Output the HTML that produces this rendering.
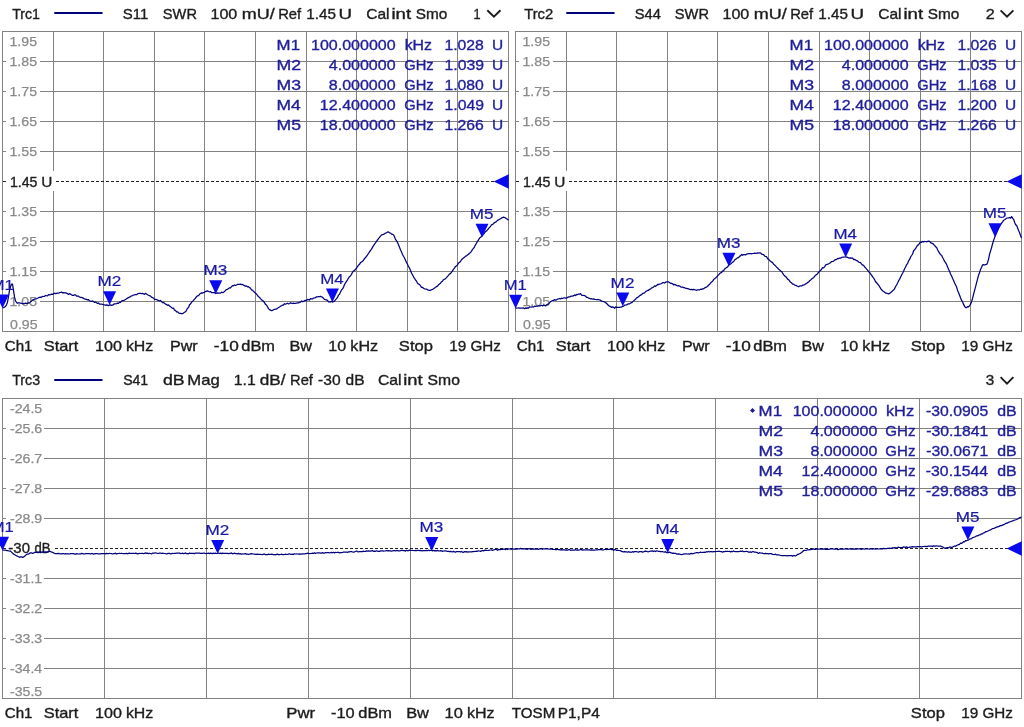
<!DOCTYPE html>
<html lang="en"><head><meta charset="utf-8"><title>VNA traces</title>
<style>html,body{margin:0;padding:0;background:#fff;overflow:hidden}svg text{white-space:pre}</style></head>
<body>
<svg width="1024" height="727" viewBox="0 0 1024 727" font-family="'Liberation Sans', Arial, sans-serif" style="display:block">
<rect x="0" y="0" width="1024" height="727" fill="#fff"/>
<g shape-rendering="crispEdges">
<line x1="2.5" y1="31.0" x2="2.5" y2="332.0" stroke="#828282" stroke-width="1"/>
<line x1="53.5" y1="31.0" x2="53.5" y2="332.0" stroke="#828282" stroke-width="1"/>
<line x1="103.5" y1="31.0" x2="103.5" y2="332.0" stroke="#828282" stroke-width="1"/>
<line x1="154.5" y1="31.0" x2="154.5" y2="332.0" stroke="#828282" stroke-width="1"/>
<line x1="204.5" y1="31.0" x2="204.5" y2="332.0" stroke="#828282" stroke-width="1"/>
<line x1="255.5" y1="31.0" x2="255.5" y2="332.0" stroke="#828282" stroke-width="1"/>
<line x1="306.5" y1="31.0" x2="306.5" y2="332.0" stroke="#828282" stroke-width="1"/>
<line x1="356.5" y1="31.0" x2="356.5" y2="332.0" stroke="#828282" stroke-width="1"/>
<line x1="407.5" y1="31.0" x2="407.5" y2="332.0" stroke="#828282" stroke-width="1"/>
<line x1="457.5" y1="31.0" x2="457.5" y2="332.0" stroke="#828282" stroke-width="1"/>
<line x1="508.5" y1="31.0" x2="508.5" y2="332.0" stroke="#828282" stroke-width="1"/>
<line x1="2.5" y1="31.5" x2="508.5" y2="31.5" stroke="#828282" stroke-width="1"/>
<line x1="2.5" y1="61.5" x2="6.0" y2="61.5" stroke="#828282" stroke-width="1"/>
<line x1="40.0" y1="61.5" x2="508.5" y2="61.5" stroke="#828282" stroke-width="1"/>
<line x1="2.5" y1="91.5" x2="6.0" y2="91.5" stroke="#828282" stroke-width="1"/>
<line x1="40.0" y1="91.5" x2="508.5" y2="91.5" stroke="#828282" stroke-width="1"/>
<line x1="2.5" y1="121.5" x2="6.0" y2="121.5" stroke="#828282" stroke-width="1"/>
<line x1="40.0" y1="121.5" x2="508.5" y2="121.5" stroke="#828282" stroke-width="1"/>
<line x1="2.5" y1="151.5" x2="6.0" y2="151.5" stroke="#828282" stroke-width="1"/>
<line x1="40.0" y1="151.5" x2="508.5" y2="151.5" stroke="#828282" stroke-width="1"/>
<line x1="2.5" y1="211.5" x2="6.0" y2="211.5" stroke="#828282" stroke-width="1"/>
<line x1="40.0" y1="211.5" x2="508.5" y2="211.5" stroke="#828282" stroke-width="1"/>
<line x1="2.5" y1="241.5" x2="6.0" y2="241.5" stroke="#828282" stroke-width="1"/>
<line x1="40.0" y1="241.5" x2="508.5" y2="241.5" stroke="#828282" stroke-width="1"/>
<line x1="2.5" y1="271.5" x2="6.0" y2="271.5" stroke="#828282" stroke-width="1"/>
<line x1="40.0" y1="271.5" x2="508.5" y2="271.5" stroke="#828282" stroke-width="1"/>
<line x1="2.5" y1="301.5" x2="6.0" y2="301.5" stroke="#828282" stroke-width="1"/>
<line x1="40.0" y1="301.5" x2="508.5" y2="301.5" stroke="#828282" stroke-width="1"/>
<line x1="2.5" y1="331.5" x2="508.5" y2="331.5" stroke="#828282" stroke-width="1"/>
</g>
<text x="9.53" y="45.70" font-size="13" fill="#8a8a8a" textLength="27.50" lengthAdjust="spacingAndGlyphs" stroke="#8a8a8a" stroke-width="0.25">1.95</text>
<text x="9.53" y="66.40" font-size="13" fill="#8a8a8a" textLength="27.50" lengthAdjust="spacingAndGlyphs" stroke="#8a8a8a" stroke-width="0.25">1.85</text>
<text x="9.53" y="96.40" font-size="13" fill="#8a8a8a" textLength="27.50" lengthAdjust="spacingAndGlyphs" stroke="#8a8a8a" stroke-width="0.25">1.75</text>
<text x="9.53" y="126.40" font-size="13" fill="#8a8a8a" textLength="27.50" lengthAdjust="spacingAndGlyphs" stroke="#8a8a8a" stroke-width="0.25">1.65</text>
<text x="9.53" y="156.40" font-size="13" fill="#8a8a8a" textLength="27.50" lengthAdjust="spacingAndGlyphs" stroke="#8a8a8a" stroke-width="0.25">1.55</text>
<text x="9.53" y="216.40" font-size="13" fill="#8a8a8a" textLength="27.50" lengthAdjust="spacingAndGlyphs" stroke="#8a8a8a" stroke-width="0.25">1.35</text>
<text x="9.53" y="246.40" font-size="13" fill="#8a8a8a" textLength="27.50" lengthAdjust="spacingAndGlyphs" stroke="#8a8a8a" stroke-width="0.25">1.25</text>
<text x="9.53" y="276.40" font-size="13" fill="#8a8a8a" textLength="27.50" lengthAdjust="spacingAndGlyphs" stroke="#8a8a8a" stroke-width="0.25">1.15</text>
<text x="9.53" y="306.40" font-size="13" fill="#8a8a8a" textLength="27.50" lengthAdjust="spacingAndGlyphs" stroke="#8a8a8a" stroke-width="0.25">1.05</text>
<text x="10.06" y="328.70" font-size="13" fill="#8a8a8a" textLength="27.50" lengthAdjust="spacingAndGlyphs" stroke="#8a8a8a" stroke-width="0.25">0.95</text>
<rect x="7.0" y="171.0" width="48.5" height="20" fill="#fff"/>
<g shape-rendering="crispEdges">
<line x1="2.5" y1="181.5" x2="6.0" y2="181.5" stroke="#222" stroke-width="1"/>
<line x1="56.0" y1="181.5" x2="494.5" y2="181.5" stroke="#222" stroke-width="1" stroke-dasharray="3 2"/>
</g>
<text x="9.93" y="186.60" font-size="14.5" fill="#1c1c1c" textLength="27.56" lengthAdjust="spacingAndGlyphs" stroke="#1c1c1c" stroke-width="0.35">1.45</text>
<text x="41.33" y="186.60" font-size="14.5" fill="#1c1c1c" textLength="11.09" lengthAdjust="spacingAndGlyphs" stroke="#1c1c1c" stroke-width="0.35">U</text>
<polygon points="493.70,181.50 508.80,174.20 508.80,188.80" fill="#0a0aee"/>
<g shape-rendering="crispEdges">
<line x1="515.5" y1="31.0" x2="515.5" y2="332.0" stroke="#828282" stroke-width="1"/>
<line x1="566.5" y1="31.0" x2="566.5" y2="332.0" stroke="#828282" stroke-width="1"/>
<line x1="616.5" y1="31.0" x2="616.5" y2="332.0" stroke="#828282" stroke-width="1"/>
<line x1="667.5" y1="31.0" x2="667.5" y2="332.0" stroke="#828282" stroke-width="1"/>
<line x1="717.5" y1="31.0" x2="717.5" y2="332.0" stroke="#828282" stroke-width="1"/>
<line x1="768.5" y1="31.0" x2="768.5" y2="332.0" stroke="#828282" stroke-width="1"/>
<line x1="819.5" y1="31.0" x2="819.5" y2="332.0" stroke="#828282" stroke-width="1"/>
<line x1="869.5" y1="31.0" x2="869.5" y2="332.0" stroke="#828282" stroke-width="1"/>
<line x1="920.5" y1="31.0" x2="920.5" y2="332.0" stroke="#828282" stroke-width="1"/>
<line x1="970.5" y1="31.0" x2="970.5" y2="332.0" stroke="#828282" stroke-width="1"/>
<line x1="1021.5" y1="31.0" x2="1021.5" y2="332.0" stroke="#828282" stroke-width="1"/>
<line x1="515.5" y1="31.5" x2="1021.5" y2="31.5" stroke="#828282" stroke-width="1"/>
<line x1="515.5" y1="61.5" x2="519.0" y2="61.5" stroke="#828282" stroke-width="1"/>
<line x1="553.0" y1="61.5" x2="1021.5" y2="61.5" stroke="#828282" stroke-width="1"/>
<line x1="515.5" y1="91.5" x2="519.0" y2="91.5" stroke="#828282" stroke-width="1"/>
<line x1="553.0" y1="91.5" x2="1021.5" y2="91.5" stroke="#828282" stroke-width="1"/>
<line x1="515.5" y1="121.5" x2="519.0" y2="121.5" stroke="#828282" stroke-width="1"/>
<line x1="553.0" y1="121.5" x2="1021.5" y2="121.5" stroke="#828282" stroke-width="1"/>
<line x1="515.5" y1="151.5" x2="519.0" y2="151.5" stroke="#828282" stroke-width="1"/>
<line x1="553.0" y1="151.5" x2="1021.5" y2="151.5" stroke="#828282" stroke-width="1"/>
<line x1="515.5" y1="211.5" x2="519.0" y2="211.5" stroke="#828282" stroke-width="1"/>
<line x1="553.0" y1="211.5" x2="1021.5" y2="211.5" stroke="#828282" stroke-width="1"/>
<line x1="515.5" y1="241.5" x2="519.0" y2="241.5" stroke="#828282" stroke-width="1"/>
<line x1="553.0" y1="241.5" x2="1021.5" y2="241.5" stroke="#828282" stroke-width="1"/>
<line x1="515.5" y1="271.5" x2="519.0" y2="271.5" stroke="#828282" stroke-width="1"/>
<line x1="553.0" y1="271.5" x2="1021.5" y2="271.5" stroke="#828282" stroke-width="1"/>
<line x1="515.5" y1="301.5" x2="519.0" y2="301.5" stroke="#828282" stroke-width="1"/>
<line x1="553.0" y1="301.5" x2="1021.5" y2="301.5" stroke="#828282" stroke-width="1"/>
<line x1="515.5" y1="331.5" x2="1021.5" y2="331.5" stroke="#828282" stroke-width="1"/>
</g>
<text x="522.53" y="45.70" font-size="13" fill="#8a8a8a" textLength="27.50" lengthAdjust="spacingAndGlyphs" stroke="#8a8a8a" stroke-width="0.25">1.95</text>
<text x="522.53" y="66.40" font-size="13" fill="#8a8a8a" textLength="27.50" lengthAdjust="spacingAndGlyphs" stroke="#8a8a8a" stroke-width="0.25">1.85</text>
<text x="522.53" y="96.40" font-size="13" fill="#8a8a8a" textLength="27.50" lengthAdjust="spacingAndGlyphs" stroke="#8a8a8a" stroke-width="0.25">1.75</text>
<text x="522.53" y="126.40" font-size="13" fill="#8a8a8a" textLength="27.50" lengthAdjust="spacingAndGlyphs" stroke="#8a8a8a" stroke-width="0.25">1.65</text>
<text x="522.53" y="156.40" font-size="13" fill="#8a8a8a" textLength="27.50" lengthAdjust="spacingAndGlyphs" stroke="#8a8a8a" stroke-width="0.25">1.55</text>
<text x="522.53" y="216.40" font-size="13" fill="#8a8a8a" textLength="27.50" lengthAdjust="spacingAndGlyphs" stroke="#8a8a8a" stroke-width="0.25">1.35</text>
<text x="522.53" y="246.40" font-size="13" fill="#8a8a8a" textLength="27.50" lengthAdjust="spacingAndGlyphs" stroke="#8a8a8a" stroke-width="0.25">1.25</text>
<text x="522.53" y="276.40" font-size="13" fill="#8a8a8a" textLength="27.50" lengthAdjust="spacingAndGlyphs" stroke="#8a8a8a" stroke-width="0.25">1.15</text>
<text x="522.53" y="306.40" font-size="13" fill="#8a8a8a" textLength="27.50" lengthAdjust="spacingAndGlyphs" stroke="#8a8a8a" stroke-width="0.25">1.05</text>
<text x="523.06" y="328.70" font-size="13" fill="#8a8a8a" textLength="27.50" lengthAdjust="spacingAndGlyphs" stroke="#8a8a8a" stroke-width="0.25">0.95</text>
<rect x="520.0" y="171.0" width="48.5" height="20" fill="#fff"/>
<g shape-rendering="crispEdges">
<line x1="515.5" y1="181.5" x2="519.0" y2="181.5" stroke="#222" stroke-width="1"/>
<line x1="569.0" y1="181.5" x2="1007.5" y2="181.5" stroke="#222" stroke-width="1" stroke-dasharray="3 2"/>
</g>
<text x="522.93" y="186.60" font-size="14.5" fill="#1c1c1c" textLength="27.56" lengthAdjust="spacingAndGlyphs" stroke="#1c1c1c" stroke-width="0.35">1.45</text>
<text x="554.33" y="186.60" font-size="14.5" fill="#1c1c1c" textLength="11.09" lengthAdjust="spacingAndGlyphs" stroke="#1c1c1c" stroke-width="0.35">U</text>
<polygon points="1006.70,181.50 1021.80,174.20 1021.80,188.80" fill="#0a0aee"/>
<g shape-rendering="crispEdges">
<line x1="2.5" y1="398.0" x2="2.5" y2="699.0" stroke="#828282" stroke-width="1"/>
<line x1="104.5" y1="398.0" x2="104.5" y2="699.0" stroke="#828282" stroke-width="1"/>
<line x1="206.5" y1="398.0" x2="206.5" y2="699.0" stroke="#828282" stroke-width="1"/>
<line x1="308.5" y1="398.0" x2="308.5" y2="699.0" stroke="#828282" stroke-width="1"/>
<line x1="410.5" y1="398.0" x2="410.5" y2="699.0" stroke="#828282" stroke-width="1"/>
<line x1="512.5" y1="398.0" x2="512.5" y2="699.0" stroke="#828282" stroke-width="1"/>
<line x1="613.5" y1="398.0" x2="613.5" y2="699.0" stroke="#828282" stroke-width="1"/>
<line x1="715.5" y1="398.0" x2="715.5" y2="699.0" stroke="#828282" stroke-width="1"/>
<line x1="817.5" y1="398.0" x2="817.5" y2="699.0" stroke="#828282" stroke-width="1"/>
<line x1="919.5" y1="398.0" x2="919.5" y2="699.0" stroke="#828282" stroke-width="1"/>
<line x1="1021.5" y1="398.0" x2="1021.5" y2="699.0" stroke="#828282" stroke-width="1"/>
<line x1="2.5" y1="398.5" x2="1021.5" y2="398.5" stroke="#828282" stroke-width="1"/>
<line x1="2.5" y1="428.5" x2="6.0" y2="428.5" stroke="#828282" stroke-width="1"/>
<line x1="44.0" y1="428.5" x2="1021.5" y2="428.5" stroke="#828282" stroke-width="1"/>
<line x1="2.5" y1="458.5" x2="6.0" y2="458.5" stroke="#828282" stroke-width="1"/>
<line x1="44.0" y1="458.5" x2="1021.5" y2="458.5" stroke="#828282" stroke-width="1"/>
<line x1="2.5" y1="488.5" x2="6.0" y2="488.5" stroke="#828282" stroke-width="1"/>
<line x1="44.0" y1="488.5" x2="1021.5" y2="488.5" stroke="#828282" stroke-width="1"/>
<line x1="2.5" y1="518.5" x2="6.0" y2="518.5" stroke="#828282" stroke-width="1"/>
<line x1="44.0" y1="518.5" x2="1021.5" y2="518.5" stroke="#828282" stroke-width="1"/>
<line x1="2.5" y1="578.5" x2="6.0" y2="578.5" stroke="#828282" stroke-width="1"/>
<line x1="44.0" y1="578.5" x2="1021.5" y2="578.5" stroke="#828282" stroke-width="1"/>
<line x1="2.5" y1="608.5" x2="6.0" y2="608.5" stroke="#828282" stroke-width="1"/>
<line x1="44.0" y1="608.5" x2="1021.5" y2="608.5" stroke="#828282" stroke-width="1"/>
<line x1="2.5" y1="638.5" x2="6.0" y2="638.5" stroke="#828282" stroke-width="1"/>
<line x1="44.0" y1="638.5" x2="1021.5" y2="638.5" stroke="#828282" stroke-width="1"/>
<line x1="2.5" y1="668.5" x2="6.0" y2="668.5" stroke="#828282" stroke-width="1"/>
<line x1="44.0" y1="668.5" x2="1021.5" y2="668.5" stroke="#828282" stroke-width="1"/>
<line x1="2.5" y1="698.5" x2="1021.5" y2="698.5" stroke="#828282" stroke-width="1"/>
</g>
<text x="9.99" y="412.70" font-size="13" fill="#8a8a8a" textLength="32.21" lengthAdjust="spacingAndGlyphs" stroke="#8a8a8a" stroke-width="0.25">-24.5</text>
<text x="9.99" y="433.40" font-size="13" fill="#8a8a8a" textLength="32.21" lengthAdjust="spacingAndGlyphs" stroke="#8a8a8a" stroke-width="0.25">-25.6</text>
<text x="9.99" y="463.40" font-size="13" fill="#8a8a8a" textLength="32.21" lengthAdjust="spacingAndGlyphs" stroke="#8a8a8a" stroke-width="0.25">-26.7</text>
<text x="9.99" y="493.40" font-size="13" fill="#8a8a8a" textLength="32.21" lengthAdjust="spacingAndGlyphs" stroke="#8a8a8a" stroke-width="0.25">-27.8</text>
<text x="9.99" y="523.40" font-size="13" fill="#8a8a8a" textLength="32.21" lengthAdjust="spacingAndGlyphs" stroke="#8a8a8a" stroke-width="0.25">-28.9</text>
<text x="9.99" y="583.40" font-size="13" fill="#8a8a8a" textLength="32.21" lengthAdjust="spacingAndGlyphs" stroke="#8a8a8a" stroke-width="0.25">-31.1</text>
<text x="9.99" y="613.40" font-size="13" fill="#8a8a8a" textLength="32.21" lengthAdjust="spacingAndGlyphs" stroke="#8a8a8a" stroke-width="0.25">-32.2</text>
<text x="9.99" y="643.40" font-size="13" fill="#8a8a8a" textLength="32.21" lengthAdjust="spacingAndGlyphs" stroke="#8a8a8a" stroke-width="0.25">-33.3</text>
<text x="9.99" y="673.40" font-size="13" fill="#8a8a8a" textLength="32.21" lengthAdjust="spacingAndGlyphs" stroke="#8a8a8a" stroke-width="0.25">-34.4</text>
<text x="9.99" y="695.70" font-size="13" fill="#8a8a8a" textLength="32.21" lengthAdjust="spacingAndGlyphs" stroke="#8a8a8a" stroke-width="0.25">-35.5</text>
<rect x="7.0" y="538.0" width="47" height="20" fill="#fff"/>
<g shape-rendering="crispEdges">
<line x1="2.5" y1="548.5" x2="6.0" y2="548.5" stroke="#222" stroke-width="1"/>
<line x1="55.0" y1="548.5" x2="1007.5" y2="548.5" stroke="#222" stroke-width="1" stroke-dasharray="3 2"/>
</g>
<text x="8.34" y="553.10" font-size="14.5" fill="#1c1c1c" textLength="21.64" lengthAdjust="spacingAndGlyphs" stroke="#1c1c1c" stroke-width="0.35">-30</text>
<text x="34.46" y="553.10" font-size="14.5" fill="#1c1c1c" textLength="15.97" lengthAdjust="spacingAndGlyphs" stroke="#1c1c1c" stroke-width="0.35">dB</text>
<polygon points="1006.70,548.50 1021.80,541.20 1021.80,555.80" fill="#0a0aee"/>
<polyline points="2.5,307.7 3.5,307.7 4.5,307.1 5.5,306.4 6.5,304.8 7.5,302.2 8.5,296.5 9.5,290.3 10.5,286.8 11.5,284.2 12.5,284.1 13.5,290.4 14.5,296.9 15.5,300.8 16.5,302.5 17.5,303.3 18.5,302.8 19.5,302.9 20.5,303.2 21.5,303.4 22.5,303.6 23.5,303.5 24.5,303.6 25.5,303.2 26.5,303.4 27.5,303.4 28.5,302.9 29.5,303.0 30.5,301.8 31.5,301.2 32.5,300.1 33.5,299.6 34.5,299.2 35.5,298.9 36.5,298.8 37.5,298.3 38.5,297.7 39.5,297.3 40.5,297.1 41.5,297.3 42.5,296.4 43.5,296.5 44.5,296.3 45.5,295.5 46.5,295.7 47.5,295.8 48.5,294.6 49.5,294.8 50.5,294.6 51.5,294.1 52.5,294.3 53.5,293.9 54.5,293.2 55.5,293.6 56.5,293.3 57.5,293.2 58.5,293.2 59.5,292.7 60.5,292.5 61.5,292.1 62.5,292.8 63.5,292.6 64.5,292.8 65.5,292.8 66.5,293.2 67.5,293.6 68.5,294.4 69.5,293.7 70.5,294.1 71.5,294.8 72.5,295.4 73.5,295.4 74.5,294.9 75.5,294.9 76.5,296.0 77.5,296.0 78.5,296.1 79.5,297.0 80.5,297.4 81.5,297.4 82.5,297.8 83.5,298.2 84.5,299.0 85.5,299.1 86.5,299.4 87.5,299.8 88.5,299.6 89.5,300.8 90.5,301.1 91.5,301.3 92.5,300.9 93.5,301.6 94.5,302.4 95.5,302.0 96.5,302.8 97.5,303.4 98.5,303.0 99.5,304.1 100.5,304.0 101.5,304.0 102.5,304.4 103.5,304.7 104.5,304.8 105.5,305.3 106.5,304.9 107.5,305.1 108.5,305.6 109.5,305.2 110.5,304.9 111.5,305.3 112.5,305.2 113.5,304.4 114.5,303.8 115.5,303.9 116.5,303.6 117.5,303.2 118.5,303.3 119.5,302.2 120.5,302.4 121.5,301.1 122.5,300.7 123.5,300.6 124.5,300.1 125.5,299.4 126.5,298.7 127.5,298.1 128.5,297.6 129.5,297.2 130.5,296.4 131.5,296.0 132.5,295.6 133.5,295.0 134.5,294.9 135.5,294.5 136.5,294.7 137.5,293.9 138.5,293.5 139.5,293.3 140.5,293.4 141.5,293.7 142.5,293.4 143.5,293.8 144.5,294.4 145.5,293.3 146.5,294.0 147.5,294.7 148.5,295.2 149.5,295.7 150.5,296.1 151.5,297.1 152.5,297.7 153.5,298.0 154.5,299.5 155.5,299.3 156.5,299.5 157.5,300.1 158.5,300.5 159.5,300.9 160.5,300.5 161.5,301.6 162.5,302.6 163.5,302.4 164.5,303.2 165.5,304.1 166.5,304.6 167.5,305.3 168.5,304.9 169.5,306.0 170.5,306.6 171.5,307.5 172.5,308.4 173.5,308.1 174.5,310.2 175.5,310.4 176.5,311.8 177.5,311.8 178.5,312.7 179.5,313.4 180.5,313.3 181.5,313.6 182.5,313.6 183.5,313.0 184.5,312.3 185.5,311.8 186.5,310.3 187.5,308.3 188.5,307.6 189.5,304.8 190.5,304.0 191.5,302.4 192.5,301.4 193.5,300.4 194.5,299.1 195.5,298.2 196.5,296.7 197.5,295.8 198.5,295.6 199.5,294.3 200.5,293.6 201.5,292.8 202.5,293.1 203.5,292.5 204.5,292.4 205.5,291.4 206.5,291.4 207.5,290.9 208.5,291.5 209.5,291.9 210.5,291.5 211.5,292.6 212.5,292.7 213.5,292.7 214.5,292.4 215.5,293.5 216.5,293.1 217.5,292.8 218.5,293.1 219.5,293.0 220.5,293.1 221.5,292.2 222.5,292.6 223.5,292.3 224.5,291.6 225.5,290.4 226.5,289.5 227.5,289.3 228.5,288.5 229.5,287.9 230.5,287.8 231.5,286.7 232.5,285.6 233.5,285.8 234.5,285.0 235.5,285.4 236.5,285.0 237.5,284.4 238.5,284.3 239.5,284.4 240.5,284.1 241.5,284.6 242.5,284.4 243.5,285.1 244.5,285.6 245.5,286.1 246.5,285.9 247.5,286.9 248.5,286.7 249.5,287.6 250.5,288.2 251.5,289.9 252.5,290.1 253.5,291.4 254.5,292.3 255.5,293.3 256.5,294.1 257.5,295.3 258.5,296.8 259.5,297.3 260.5,298.6 261.5,299.8 262.5,300.5 263.5,301.3 264.5,302.6 265.5,304.4 266.5,305.1 267.5,306.8 268.5,308.6 269.5,309.6 270.5,310.1 271.5,310.7 272.5,310.5 273.5,309.8 274.5,309.3 275.5,309.1 276.5,309.1 277.5,308.2 278.5,307.5 279.5,307.0 280.5,306.1 281.5,305.9 282.5,305.0 283.5,305.0 284.5,303.7 285.5,304.2 286.5,303.7 287.5,303.2 288.5,303.9 289.5,303.5 290.5,302.9 291.5,303.2 292.5,303.5 293.5,303.2 294.5,303.4 295.5,303.3 296.5,303.1 297.5,302.8 298.5,302.9 299.5,302.4 300.5,302.1 301.5,301.0 302.5,301.6 303.5,301.4 304.5,300.7 305.5,300.3 306.5,300.7 307.5,299.3 308.5,299.7 309.5,300.0 310.5,298.7 311.5,298.9 312.5,298.9 313.5,298.1 314.5,298.0 315.5,297.7 316.5,296.8 317.5,296.8 318.5,296.6 319.5,296.7 320.5,296.4 321.5,296.8 322.5,297.3 323.5,298.3 324.5,299.4 325.5,299.7 326.5,299.9 327.5,300.4 328.5,301.9 329.5,301.9 330.5,302.0 331.5,301.2 332.5,302.1 333.5,301.5 334.5,301.1 335.5,299.8 336.5,298.6 337.5,297.5 338.5,295.1 339.5,294.2 340.5,292.1 341.5,290.0 342.5,288.9 343.5,287.3 344.5,284.5 345.5,282.9 346.5,281.4 347.5,279.8 348.5,278.1 349.5,276.5 350.5,276.0 351.5,274.3 352.5,272.3 353.5,270.9 354.5,270.6 355.5,269.1 356.5,268.2 357.5,266.7 358.5,265.1 359.5,264.4 360.5,262.6 361.5,262.0 362.5,261.2 363.5,260.2 364.5,258.7 365.5,257.5 366.5,256.4 367.5,254.9 368.5,253.5 369.5,251.9 370.5,250.3 371.5,249.2 372.5,247.4 373.5,245.6 374.5,244.1 375.5,242.8 376.5,241.3 377.5,240.0 378.5,238.7 379.5,237.4 380.5,236.2 381.5,234.9 382.5,234.7 383.5,234.4 384.5,233.7 385.5,233.0 386.5,232.8 387.5,232.1 388.5,231.9 389.5,232.8 390.5,233.0 391.5,234.1 392.5,234.3 393.5,234.8 394.5,236.8 395.5,239.4 396.5,240.7 397.5,242.4 398.5,244.7 399.5,247.3 400.5,249.7 401.5,251.9 402.5,254.5 403.5,256.3 404.5,258.0 405.5,260.2 406.5,262.5 407.5,264.3 408.5,266.5 409.5,268.1 410.5,270.6 411.5,273.0 412.5,274.7 413.5,276.8 414.5,278.3 415.5,280.0 416.5,281.1 417.5,283.2 418.5,283.9 419.5,284.6 420.5,285.7 421.5,287.4 422.5,287.3 423.5,288.2 424.5,288.8 425.5,289.0 426.5,289.0 427.5,289.8 428.5,290.1 429.5,290.4 430.5,290.3 431.5,289.7 432.5,289.5 433.5,288.8 434.5,288.1 435.5,287.4 436.5,286.6 437.5,286.2 438.5,284.8 439.5,284.0 440.5,283.2 441.5,281.8 442.5,281.2 443.5,279.7 444.5,279.2 445.5,278.6 446.5,277.6 447.5,276.4 448.5,275.3 449.5,273.9 450.5,273.7 451.5,272.1 452.5,271.0 453.5,269.1 454.5,268.1 455.5,266.4 456.5,266.0 457.5,264.9 458.5,263.0 459.5,262.4 460.5,261.5 461.5,259.8 462.5,258.8 463.5,258.0 464.5,257.3 465.5,256.2 466.5,255.8 467.5,255.0 468.5,254.2 469.5,253.2 470.5,252.4 471.5,251.3 472.5,249.4 473.5,248.4 474.5,246.8 475.5,244.9 476.5,243.2 477.5,241.3 478.5,240.0 479.5,238.1 480.5,237.2 481.5,236.5 482.5,235.3 483.5,234.1 484.5,233.0 485.5,231.6 486.5,231.0 487.5,229.8 488.5,228.6 489.5,227.4 490.5,226.5 491.5,224.8 492.5,224.4 493.5,223.8 494.5,222.5 495.5,222.2 496.5,221.4 497.5,220.3 498.5,219.9 499.5,219.2 500.5,218.7 501.5,218.1 502.5,217.5 503.5,217.1 504.5,217.5 505.5,217.9 506.5,218.7 507.5,219.3 508.5,220.2" fill="none" stroke="#00007c" stroke-width="1.25" stroke-linejoin="round"/>
<polyline points="515.6,308.2 516.6,308.1 517.6,308.0 518.6,307.8 519.6,308.1 520.6,308.0 521.6,308.1 522.6,308.2 523.6,307.9 524.6,308.7 525.6,307.9 526.6,308.3 527.6,307.9 528.6,308.1 529.6,306.8 530.6,307.0 531.6,307.0 532.6,306.8 533.6,307.0 534.6,306.2 535.6,306.3 536.6,306.1 537.6,306.1 538.6,305.9 539.6,305.7 540.6,305.8 541.6,305.3 542.6,305.9 543.6,305.2 544.6,305.5 545.6,305.9 546.6,304.9 547.6,304.3 548.6,303.9 549.6,302.6 550.6,301.5 551.6,301.1 552.6,300.7 553.6,300.4 554.6,299.6 555.6,300.1 556.6,299.8 557.6,299.0 558.6,298.9 559.6,298.5 560.6,298.9 561.6,298.2 562.6,298.5 563.6,298.0 564.6,297.8 565.6,298.1 566.6,298.1 567.6,297.4 568.6,296.9 569.6,297.0 570.6,296.4 571.6,296.1 572.6,296.1 573.6,295.7 574.6,294.9 575.6,295.5 576.6,294.5 577.6,294.6 578.6,294.0 579.6,294.1 580.6,293.7 581.6,295.1 582.6,295.5 583.6,295.3 584.6,295.7 585.6,296.1 586.6,297.4 587.6,297.4 588.6,298.1 589.6,298.4 590.6,298.8 591.6,298.7 592.6,299.2 593.6,298.8 594.6,299.3 595.6,299.5 596.6,299.6 597.6,299.5 598.6,299.5 599.6,300.0 600.6,300.2 601.6,301.2 602.6,301.4 603.6,301.6 604.6,302.0 605.6,302.6 606.6,303.4 607.6,304.5 608.6,305.5 609.6,306.2 610.6,306.6 611.6,307.4 612.6,306.9 613.6,307.4 614.6,308.3 615.6,306.9 616.6,307.3 617.6,307.4 618.6,307.3 619.6,307.3 620.6,307.0 621.6,307.0 622.6,306.4 623.6,306.2 624.6,305.0 625.6,305.0 626.6,304.9 627.6,304.2 628.6,303.8 629.6,303.9 630.6,303.0 631.6,302.7 632.6,301.9 633.6,300.9 634.6,300.1 635.6,299.0 636.6,297.8 637.6,297.4 638.6,296.8 639.6,295.7 640.6,295.1 641.6,294.6 642.6,293.4 643.6,293.2 644.6,292.9 645.6,291.5 646.6,291.1 647.6,290.4 648.6,290.3 649.6,289.3 650.6,289.0 651.6,287.9 652.6,287.6 653.6,287.0 654.6,285.9 655.6,286.3 656.6,285.6 657.6,284.3 658.6,284.6 659.6,284.0 660.6,283.8 661.6,283.5 662.6,282.6 663.6,282.7 664.6,283.0 665.6,282.2 666.6,281.9 667.6,281.8 668.6,281.9 669.6,282.6 670.6,283.4 671.6,283.4 672.6,283.8 673.6,284.8 674.6,284.4 675.6,284.8 676.6,285.5 677.6,285.8 678.6,285.7 679.6,286.0 680.6,286.8 681.6,287.1 682.6,287.0 683.6,287.6 684.6,287.7 685.6,288.3 686.6,288.4 687.6,288.6 688.6,288.8 689.6,289.4 690.6,289.7 691.6,289.3 692.6,289.8 693.6,289.4 694.6,289.7 695.6,290.0 696.6,290.3 697.6,289.8 698.6,289.9 699.6,289.8 700.6,289.2 701.6,289.4 702.6,288.9 703.6,288.8 704.6,288.0 705.6,287.3 706.6,287.1 707.6,286.3 708.6,285.0 709.6,284.4 710.6,283.0 711.6,281.9 712.6,281.2 713.6,279.6 714.6,278.8 715.6,277.9 716.6,277.1 717.6,275.8 718.6,274.9 719.6,273.6 720.6,272.9 721.6,272.4 722.6,270.8 723.6,270.8 724.6,269.0 725.6,268.3 726.6,267.5 727.6,266.9 728.6,265.4 729.6,264.2 730.6,264.1 731.6,263.1 732.6,262.1 733.6,261.7 734.6,260.0 735.6,259.2 736.6,258.6 737.6,257.8 738.6,257.6 739.6,256.2 740.6,255.9 741.6,254.4 742.6,255.3 743.6,254.6 744.6,254.7 745.6,254.9 746.6,254.1 747.6,253.9 748.6,253.7 749.6,253.5 750.6,253.5 751.6,253.8 752.6,253.5 753.6,253.4 754.6,253.2 755.6,253.4 756.6,253.2 757.6,252.9 758.6,253.1 759.6,252.9 760.6,252.8 761.6,254.1 762.6,254.4 763.6,254.7 764.6,256.0 765.6,256.5 766.6,256.7 767.6,258.6 768.6,259.2 769.6,260.4 770.6,261.2 771.6,262.1 772.6,262.6 773.6,264.3 774.6,265.0 775.6,265.9 776.6,267.1 777.6,268.0 778.6,269.2 779.6,269.9 780.6,271.0 781.6,271.5 782.6,273.1 783.6,274.6 784.6,275.9 785.6,276.5 786.6,277.6 787.6,279.2 788.6,279.6 789.6,281.0 790.6,282.3 791.6,282.8 792.6,284.1 793.6,284.2 794.6,285.0 795.6,285.3 796.6,285.7 797.6,286.3 798.6,286.8 799.6,286.0 800.6,285.9 801.6,286.0 802.6,285.2 803.6,285.2 804.6,284.7 805.6,283.8 806.6,283.5 807.6,282.3 808.6,282.2 809.6,280.7 810.6,280.0 811.6,279.1 812.6,278.3 813.6,277.7 814.6,276.4 815.6,275.2 816.6,274.4 817.6,273.7 818.6,272.1 819.6,271.2 820.6,270.5 821.6,269.2 822.6,267.7 823.6,267.9 824.6,266.9 825.6,264.8 826.6,264.7 827.6,264.2 828.6,263.8 829.6,263.2 830.6,262.4 831.6,261.6 832.6,261.5 833.6,261.2 834.6,260.1 835.6,259.6 836.6,259.4 837.6,258.4 838.6,258.6 839.6,258.2 840.6,258.1 841.6,257.5 842.6,257.2 843.6,257.1 844.6,257.0 845.6,256.8 846.6,257.1 847.6,257.4 848.6,257.8 849.6,258.2 850.6,257.8 851.6,258.2 852.6,258.0 853.6,259.6 854.6,259.3 855.6,260.0 856.6,260.7 857.6,260.8 858.6,262.0 859.6,262.5 860.6,262.7 861.6,264.1 862.6,265.2 863.6,265.2 864.6,267.0 865.6,267.9 866.6,269.1 867.6,270.2 868.6,271.7 869.6,272.4 870.6,274.0 871.6,275.1 872.6,276.9 873.6,277.9 874.6,279.7 875.6,281.7 876.6,282.7 877.6,284.0 878.6,285.2 879.6,286.7 880.6,288.4 881.6,289.8 882.6,290.7 883.6,291.5 884.6,292.1 885.6,293.2 886.6,293.2 887.6,293.5 888.6,293.9 889.6,293.4 890.6,292.6 891.6,291.7 892.6,290.8 893.6,290.1 894.6,288.7 895.6,286.5 896.6,285.1 897.6,283.0 898.6,280.7 899.6,279.3 900.6,277.0 901.6,274.9 902.6,273.2 903.6,271.3 904.6,268.7 905.6,267.0 906.6,264.6 907.6,263.6 908.6,260.8 909.6,259.4 910.6,256.9 911.6,255.5 912.6,254.0 913.6,250.7 914.6,249.7 915.6,248.5 916.6,246.8 917.6,245.2 918.6,244.8 919.6,243.1 920.6,242.0 921.6,242.4 922.6,241.4 923.6,242.1 924.6,241.4 925.6,241.5 926.6,241.8 927.6,241.4 928.6,241.1 929.6,241.3 930.6,242.7 931.6,243.1 932.6,243.3 933.6,244.5 934.6,245.4 935.6,246.8 936.6,247.5 937.6,249.8 938.6,251.7 939.6,253.2 940.6,254.7 941.6,255.2 942.6,257.5 943.6,259.2 944.6,261.5 945.6,262.4 946.6,264.6 947.6,266.9 948.6,269.5 949.6,271.4 950.6,274.2 951.6,275.9 952.6,278.5 953.6,280.5 954.6,283.0 955.6,285.0 956.6,287.1 957.6,290.4 958.6,292.8 959.6,295.2 960.6,298.0 961.6,300.4 962.6,302.0 963.6,304.4 964.6,306.4 965.6,307.5 966.6,307.5 967.6,306.6 968.6,306.9 969.6,305.6 970.6,304.2 971.6,301.5 972.6,298.2 973.6,294.1 974.6,290.3 975.6,286.7 976.6,282.7 977.6,278.8 978.6,275.0 979.6,272.6 980.6,269.3 981.6,267.2 982.6,264.8 983.6,264.7 984.6,265.0 985.6,264.7 986.6,264.4 987.6,262.7 988.6,258.8 989.6,254.1 990.6,250.9 991.6,247.5 992.6,243.7 993.6,240.4 994.6,237.6 995.6,235.0 996.6,232.7 997.6,230.4 998.6,228.2 999.6,226.5 1000.6,224.7 1001.6,223.1 1002.6,221.9 1003.6,220.3 1004.6,219.8 1005.6,219.0 1006.6,218.1 1007.6,218.0 1008.6,217.9 1009.6,217.5 1010.6,218.1 1011.6,216.6 1012.6,218.2 1013.6,219.3 1014.6,222.2 1015.6,224.8 1016.6,225.2 1017.6,228.1 1018.6,230.6 1019.6,232.8 1020.6,235.7 1021.5,238.0" fill="none" stroke="#00007c" stroke-width="1.25" stroke-linejoin="round"/>
<polyline points="2.5,550.0 3.5,550.1 4.5,550.1 5.5,550.1 6.5,550.5 7.5,550.5 8.5,550.9 9.5,551.0 10.5,551.0 11.5,552.1 12.5,553.1 13.5,554.1 14.5,554.5 15.5,555.2 16.5,555.8 17.5,556.2 18.5,556.8 19.5,557.3 20.5,556.9 21.5,556.8 22.5,557.4 23.5,557.1 24.5,556.2 25.5,555.4 26.5,554.5 27.5,554.1 28.5,554.1 29.5,553.4 30.5,552.9 31.5,552.8 32.5,553.4 33.5,553.1 34.5,552.4 35.5,552.3 36.5,552.4 37.5,552.2 38.5,552.6 39.5,552.2 40.5,551.9 41.5,552.4 42.5,551.9 43.5,552.1 44.5,552.0 45.5,551.9 46.5,552.0 47.5,551.8 48.5,551.5 49.5,551.4 50.5,551.6 51.5,552.0 52.5,552.4 53.5,552.8 54.5,553.3 55.5,553.6 56.5,553.5 57.5,553.6 58.5,553.3 59.5,553.7 60.5,553.9 61.5,553.9 62.5,553.7 63.5,553.7 64.5,554.0 65.5,553.7 66.5,553.9 67.5,553.9 68.5,553.8 69.5,554.0 70.5,553.6 71.5,553.7 72.5,553.5 73.5,553.5 74.5,554.1 75.5,554.1 76.5,553.7 77.5,553.8 78.5,554.0 79.5,553.9 80.5,554.0 81.5,553.4 82.5,553.6 83.5,553.8 84.5,554.0 85.5,553.7 86.5,553.5 87.5,553.6 88.5,553.5 89.5,553.5 90.5,554.0 91.5,553.5 92.5,553.7 93.5,554.1 94.5,553.9 95.5,553.7 96.5,553.5 97.5,553.7 98.5,554.0 99.5,553.8 100.5,553.9 101.5,553.6 102.5,553.7 103.5,553.6 104.5,553.7 105.5,553.9 106.5,553.3 107.5,553.6 108.5,553.6 109.5,553.4 110.5,553.5 111.5,553.7 112.5,554.0 113.5,553.7 114.5,553.6 115.5,553.2 116.5,554.0 117.5,553.6 118.5,553.5 119.5,553.3 120.5,553.5 121.5,553.3 122.5,553.5 123.5,553.6 124.5,553.5 125.5,553.6 126.5,553.3 127.5,553.8 128.5,553.4 129.5,553.1 130.5,553.5 131.5,553.3 132.5,553.3 133.5,553.4 134.5,553.5 135.5,553.2 136.5,553.4 137.5,553.8 138.5,553.6 139.5,553.4 140.5,553.5 141.5,553.4 142.5,553.4 143.5,553.6 144.5,553.4 145.5,552.9 146.5,553.4 147.5,553.2 148.5,553.6 149.5,553.3 150.5,553.5 151.5,553.9 152.5,553.2 153.5,553.2 154.5,553.1 155.5,552.9 156.5,553.0 157.5,553.5 158.5,553.3 159.5,553.0 160.5,553.1 161.5,553.5 162.5,553.2 163.5,553.3 164.5,553.5 165.5,553.7 166.5,553.8 167.5,553.6 168.5,553.4 169.5,553.4 170.5,553.8 171.5,553.7 172.5,553.3 173.5,553.5 174.5,553.4 175.5,553.4 176.5,553.2 177.5,553.1 178.5,553.2 179.5,553.0 180.5,553.6 181.5,553.5 182.5,553.1 183.5,553.6 184.5,553.5 185.5,552.9 186.5,553.7 187.5,553.5 188.5,553.8 189.5,553.1 190.5,553.4 191.5,553.4 192.5,553.4 193.5,553.4 194.5,553.6 195.5,553.0 196.5,553.0 197.5,553.0 198.5,553.2 199.5,553.2 200.5,553.4 201.5,553.4 202.5,553.3 203.5,553.2 204.5,553.2 205.5,553.5 206.5,553.5 207.5,553.3 208.5,553.2 209.5,553.6 210.5,553.2 211.5,553.4 212.5,553.6 213.5,553.2 214.5,553.5 215.5,553.1 216.5,553.5 217.5,553.3 218.5,553.0 219.5,553.5 220.5,553.1 221.5,553.6 222.5,553.2 223.5,553.3 224.5,553.4 225.5,553.3 226.5,553.4 227.5,553.3 228.5,553.6 229.5,553.4 230.5,553.5 231.5,552.9 232.5,553.8 233.5,553.5 234.5,553.2 235.5,553.6 236.5,553.7 237.5,553.9 238.5,553.4 239.5,554.0 240.5,553.7 241.5,554.3 242.5,553.8 243.5,554.0 244.5,553.8 245.5,553.6 246.5,554.1 247.5,554.1 248.5,554.3 249.5,554.2 250.5,553.9 251.5,553.7 252.5,553.9 253.5,554.0 254.5,554.0 255.5,554.3 256.5,554.3 257.5,554.2 258.5,554.3 259.5,554.3 260.5,554.4 261.5,554.5 262.5,554.6 263.5,554.2 264.5,554.1 265.5,554.7 266.5,554.5 267.5,554.7 268.5,554.1 269.5,554.4 270.5,554.5 271.5,554.2 272.5,554.4 273.5,554.7 274.5,554.7 275.5,554.9 276.5,554.3 277.5,554.2 278.5,554.6 279.5,554.7 280.5,554.5 281.5,554.2 282.5,554.6 283.5,554.6 284.5,554.5 285.5,554.2 286.5,554.4 287.5,554.5 288.5,554.1 289.5,553.8 290.5,554.3 291.5,554.3 292.5,554.1 293.5,554.3 294.5,553.9 295.5,554.0 296.5,553.9 297.5,554.0 298.5,554.2 299.5,553.8 300.5,554.2 301.5,554.1 302.5,553.9 303.5,553.8 304.5,554.0 305.5,553.5 306.5,553.5 307.5,553.2 308.5,553.5 309.5,553.7 310.5,553.5 311.5,553.4 312.5,553.2 313.5,553.3 314.5,552.9 315.5,553.4 316.5,553.0 317.5,552.8 318.5,552.9 319.5,552.8 320.5,553.2 321.5,553.2 322.5,552.6 323.5,553.1 324.5,553.1 325.5,552.7 326.5,552.5 327.5,552.7 328.5,552.7 329.5,552.8 330.5,552.7 331.5,552.3 332.5,552.8 333.5,552.3 334.5,552.9 335.5,552.4 336.5,552.5 337.5,552.4 338.5,552.4 339.5,552.8 340.5,552.7 341.5,552.6 342.5,552.5 343.5,552.0 344.5,552.2 345.5,552.1 346.5,552.0 347.5,552.3 348.5,551.9 349.5,551.9 350.5,551.7 351.5,551.5 352.5,552.0 353.5,552.1 354.5,551.8 355.5,551.5 356.5,551.0 357.5,551.6 358.5,551.8 359.5,551.5 360.5,551.6 361.5,551.7 362.5,551.6 363.5,551.2 364.5,551.5 365.5,551.4 366.5,550.9 367.5,551.1 368.5,550.9 369.5,551.1 370.5,551.2 371.5,550.9 372.5,550.6 373.5,551.3 374.5,551.1 375.5,551.3 376.5,550.7 377.5,551.2 378.5,551.4 379.5,551.4 380.5,550.9 381.5,550.9 382.5,550.8 383.5,551.1 384.5,551.0 385.5,550.8 386.5,550.5 387.5,550.9 388.5,550.6 389.5,550.9 390.5,550.8 391.5,551.1 392.5,550.9 393.5,550.6 394.5,550.7 395.5,551.0 396.5,550.5 397.5,550.7 398.5,550.9 399.5,550.9 400.5,550.7 401.5,550.3 402.5,550.3 403.5,550.6 404.5,550.6 405.5,551.1 406.5,550.3 407.5,550.8 408.5,550.7 409.5,550.1 410.5,550.3 411.5,550.5 412.5,550.4 413.5,550.5 414.5,550.6 415.5,550.3 416.5,550.6 417.5,550.4 418.5,550.4 419.5,550.6 420.5,550.4 421.5,550.6 422.5,550.9 423.5,550.5 424.5,550.5 425.5,550.7 426.5,550.4 427.5,550.7 428.5,550.2 429.5,550.6 430.5,550.4 431.5,550.3 432.5,550.9 433.5,550.3 434.5,550.9 435.5,550.7 436.5,550.9 437.5,550.4 438.5,550.9 439.5,551.0 440.5,550.7 441.5,550.8 442.5,551.4 443.5,551.0 444.5,550.9 445.5,550.9 446.5,551.2 447.5,551.3 448.5,551.3 449.5,551.7 450.5,551.3 451.5,551.6 452.5,551.8 453.5,551.4 454.5,551.9 455.5,552.1 456.5,551.5 457.5,551.6 458.5,551.6 459.5,551.5 460.5,552.0 461.5,551.5 462.5,552.1 463.5,552.3 464.5,551.6 465.5,551.9 466.5,551.6 467.5,552.1 468.5,551.8 469.5,551.8 470.5,551.8 471.5,551.9 472.5,551.6 473.5,551.6 474.5,551.4 475.5,551.5 476.5,551.1 477.5,551.3 478.5,550.8 479.5,551.0 480.5,551.4 481.5,550.9 482.5,550.5 483.5,550.8 484.5,550.4 485.5,550.2 486.5,550.3 487.5,550.5 488.5,550.4 489.5,550.2 490.5,550.0 491.5,549.9 492.5,550.3 493.5,550.0 494.5,549.7 495.5,549.4 496.5,549.5 497.5,550.3 498.5,549.4 499.5,549.6 500.5,549.6 501.5,549.4 502.5,549.4 503.5,549.1 504.5,549.1 505.5,549.6 506.5,549.0 507.5,549.4 508.5,548.8 509.5,549.0 510.5,549.1 511.5,549.3 512.5,548.8 513.5,549.1 514.5,549.1 515.5,548.8 516.5,549.1 517.5,548.8 518.5,548.8 519.5,549.0 520.5,548.4 521.5,549.0 522.5,548.8 523.5,548.7 524.5,548.9 525.5,549.2 526.5,548.9 527.5,549.3 528.5,548.7 529.5,548.7 530.5,549.3 531.5,549.1 532.5,549.2 533.5,548.8 534.5,549.2 535.5,549.1 536.5,549.1 537.5,549.0 538.5,549.3 539.5,548.9 540.5,548.8 541.5,548.7 542.5,549.3 543.5,548.8 544.5,548.8 545.5,548.8 546.5,548.9 547.5,548.8 548.5,549.0 549.5,549.0 550.5,549.1 551.5,549.0 552.5,549.3 553.5,549.3 554.5,549.5 555.5,549.6 556.5,549.7 557.5,549.2 558.5,549.6 559.5,549.6 560.5,550.0 561.5,549.6 562.5,549.8 563.5,549.9 564.5,549.9 565.5,550.2 566.5,549.9 567.5,550.2 568.5,549.7 569.5,549.6 570.5,550.3 571.5,550.1 572.5,550.1 573.5,550.0 574.5,550.1 575.5,549.7 576.5,550.2 577.5,549.8 578.5,550.2 579.5,550.0 580.5,549.5 581.5,549.6 582.5,550.2 583.5,549.9 584.5,549.8 585.5,550.0 586.5,549.8 587.5,549.8 588.5,549.9 589.5,549.9 590.5,550.2 591.5,549.9 592.5,550.2 593.5,550.2 594.5,550.2 595.5,550.0 596.5,549.8 597.5,549.8 598.5,549.7 599.5,549.6 600.5,549.7 601.5,549.6 602.5,550.0 603.5,549.8 604.5,549.5 605.5,549.2 606.5,549.6 607.5,549.5 608.5,549.3 609.5,549.3 610.5,549.0 611.5,549.6 612.5,549.5 613.5,550.1 614.5,549.6 615.5,549.7 616.5,550.3 617.5,550.2 618.5,550.4 619.5,550.5 620.5,550.7 621.5,551.4 622.5,551.6 623.5,551.9 624.5,551.7 625.5,551.9 626.5,551.8 627.5,552.2 628.5,551.7 629.5,552.1 630.5,552.2 631.5,552.3 632.5,551.7 633.5,552.1 634.5,551.7 635.5,551.7 636.5,551.5 637.5,552.0 638.5,552.1 639.5,551.6 640.5,551.5 641.5,551.5 642.5,552.1 643.5,551.8 644.5,551.4 645.5,551.1 646.5,551.3 647.5,551.6 648.5,551.8 649.5,551.3 650.5,551.2 651.5,551.2 652.5,550.9 653.5,551.5 654.5,551.0 655.5,551.5 656.5,550.9 657.5,551.0 658.5,551.4 659.5,551.3 660.5,551.7 661.5,551.6 662.5,551.5 663.5,552.0 664.5,552.1 665.5,551.7 666.5,552.6 667.5,552.4 668.5,552.6 669.5,552.2 670.5,552.6 671.5,552.9 672.5,553.4 673.5,553.1 674.5,553.4 675.5,553.3 676.5,553.9 677.5,554.2 678.5,553.8 679.5,554.1 680.5,554.4 681.5,554.6 682.5,554.4 683.5,554.1 684.5,553.9 685.5,553.9 686.5,553.9 687.5,554.0 688.5,553.8 689.5,554.1 690.5,553.7 691.5,553.3 692.5,553.8 693.5,553.5 694.5,553.2 695.5,553.0 696.5,552.6 697.5,552.7 698.5,553.0 699.5,552.5 700.5,552.2 701.5,552.5 702.5,552.4 703.5,552.3 704.5,552.2 705.5,552.3 706.5,551.7 707.5,552.0 708.5,551.5 709.5,551.8 710.5,551.7 711.5,551.6 712.5,551.8 713.5,551.5 714.5,551.7 715.5,551.7 716.5,551.5 717.5,551.4 718.5,551.3 719.5,551.4 720.5,551.5 721.5,551.5 722.5,552.2 723.5,551.6 724.5,551.7 725.5,551.3 726.5,551.3 727.5,551.4 728.5,551.5 729.5,551.3 730.5,551.9 731.5,551.4 732.5,551.7 733.5,551.0 734.5,551.5 735.5,551.6 736.5,551.5 737.5,551.6 738.5,551.6 739.5,551.5 740.5,551.1 741.5,551.3 742.5,551.0 743.5,551.6 744.5,551.6 745.5,551.5 746.5,551.4 747.5,551.5 748.5,552.1 749.5,552.2 750.5,551.9 751.5,552.3 752.5,551.7 753.5,551.7 754.5,552.2 755.5,552.2 756.5,552.4 757.5,552.7 758.5,553.4 759.5,552.7 760.5,553.0 761.5,553.2 762.5,553.2 763.5,553.5 764.5,553.8 765.5,553.3 766.5,553.7 767.5,553.7 768.5,553.9 769.5,553.6 770.5,553.7 771.5,553.7 772.5,554.4 773.5,554.5 774.5,554.6 775.5,554.2 776.5,554.8 777.5,554.8 778.5,554.8 779.5,555.0 780.5,555.5 781.5,555.6 782.5,555.5 783.5,555.7 784.5,555.5 785.5,555.7 786.5,555.7 787.5,555.9 788.5,555.7 789.5,555.7 790.5,555.7 791.5,555.5 792.5,556.1 793.5,555.7 794.5,555.6 795.5,555.9 796.5,555.5 797.5,554.4 798.5,554.3 799.5,553.7 800.5,553.2 801.5,552.4 802.5,551.7 803.5,550.7 804.5,550.4 805.5,550.5 806.5,550.3 807.5,549.8 808.5,549.8 809.5,549.6 810.5,549.6 811.5,549.5 812.5,549.2 813.5,548.9 814.5,549.4 815.5,549.4 816.5,549.0 817.5,549.2 818.5,549.1 819.5,549.1 820.5,549.1 821.5,548.8 822.5,549.1 823.5,549.2 824.5,548.8 825.5,549.4 826.5,549.5 827.5,549.4 828.5,549.4 829.5,549.2 830.5,548.9 831.5,548.9 832.5,548.8 833.5,549.0 834.5,549.0 835.5,549.1 836.5,548.6 837.5,549.5 838.5,549.5 839.5,549.0 840.5,549.1 841.5,549.1 842.5,549.1 843.5,549.0 844.5,549.0 845.5,548.8 846.5,549.0 847.5,549.0 848.5,549.1 849.5,548.8 850.5,549.0 851.5,549.0 852.5,549.1 853.5,548.8 854.5,549.1 855.5,549.2 856.5,549.1 857.5,548.9 858.5,548.9 859.5,548.9 860.5,549.2 861.5,549.3 862.5,549.0 863.5,548.9 864.5,549.1 865.5,549.0 866.5,548.8 867.5,548.8 868.5,549.0 869.5,549.1 870.5,548.7 871.5,548.8 872.5,549.1 873.5,548.7 874.5,549.0 875.5,549.1 876.5,549.0 877.5,548.8 878.5,549.0 879.5,548.9 880.5,549.0 881.5,548.7 882.5,549.0 883.5,548.4 884.5,548.6 885.5,548.6 886.5,548.7 887.5,548.3 888.5,548.4 889.5,548.1 890.5,548.3 891.5,548.4 892.5,547.8 893.5,547.9 894.5,547.6 895.5,547.9 896.5,547.9 897.5,547.6 898.5,547.2 899.5,547.5 900.5,547.6 901.5,547.6 902.5,547.5 903.5,546.9 904.5,547.1 905.5,547.5 906.5,546.9 907.5,547.3 908.5,547.5 909.5,547.2 910.5,547.2 911.5,546.8 912.5,546.6 913.5,546.8 914.5,546.8 915.5,546.8 916.5,546.9 917.5,546.7 918.5,546.7 919.5,546.7 920.5,546.6 921.5,547.0 922.5,546.6 923.5,546.5 924.5,546.4 925.5,546.3 926.5,546.7 927.5,546.3 928.5,546.0 929.5,546.1 930.5,546.2 931.5,546.1 932.5,546.4 933.5,545.8 934.5,546.2 935.5,546.1 936.5,545.8 937.5,546.0 938.5,546.0 939.5,546.1 940.5,546.0 941.5,546.6 942.5,546.8 943.5,547.5 944.5,548.2 945.5,548.2 946.5,547.9 947.5,547.7 948.5,547.9 949.5,547.1 950.5,547.2 951.5,547.4 952.5,547.1 953.5,546.5 954.5,546.0 955.5,546.3 956.5,545.6 957.5,545.0 958.5,544.7 959.5,544.4 960.5,543.1 961.5,543.4 962.5,542.8 963.5,541.6 964.5,541.8 965.5,540.7 966.5,540.8 967.5,540.2 968.5,540.2 969.5,539.1 970.5,538.8 971.5,538.6 972.5,537.8 973.5,537.3 974.5,537.0 975.5,536.6 976.5,535.9 977.5,535.8 978.5,535.4 979.5,534.8 980.5,534.7 981.5,533.8 982.5,533.8 983.5,532.9 984.5,532.7 985.5,531.7 986.5,531.7 987.5,531.2 988.5,530.7 989.5,530.2 990.5,529.9 991.5,529.3 992.5,528.6 993.5,528.5 994.5,528.1 995.5,527.7 996.5,527.1 997.5,526.9 998.5,526.7 999.5,526.1 1000.5,525.6 1001.5,525.6 1002.5,525.1 1003.5,524.7 1004.5,524.3 1005.5,523.6 1006.5,523.2 1007.5,523.1 1008.5,522.3 1009.5,522.0 1010.5,521.7 1011.5,521.3 1012.5,520.8 1013.5,520.6 1014.5,520.0 1015.5,519.8 1016.5,519.5 1017.5,519.0 1018.5,518.6 1019.5,517.8 1020.5,517.4 1021.5,517.3" fill="none" stroke="#00007c" stroke-width="1.25" stroke-linejoin="round"/>
<polygon points="-4.00,294.50 9.00,294.50 2.50,308.30" fill="#0a0aee"/>
<text x="-9.30" y="289.50" font-size="14.5" fill="#1818a8" textLength="23.06" lengthAdjust="spacingAndGlyphs" stroke="#1818a8" stroke-width="0.2">M1</text>
<polygon points="103.10,291.20 116.10,291.20 109.60,305.00" fill="#0a0aee"/>
<text x="97.40" y="286.20" font-size="14.5" fill="#1818a8" textLength="23.85" lengthAdjust="spacingAndGlyphs" stroke="#1818a8" stroke-width="0.2">M2</text>
<polygon points="209.25,280.25 222.25,280.25 215.75,294.05" fill="#0a0aee"/>
<text x="203.56" y="275.25" font-size="14.5" fill="#1818a8" textLength="23.72" lengthAdjust="spacingAndGlyphs" stroke="#1818a8" stroke-width="0.2">M3</text>
<polygon points="325.90,288.50 338.90,288.50 332.40,302.30" fill="#0a0aee"/>
<text x="320.23" y="283.50" font-size="14.5" fill="#1818a8" textLength="23.47" lengthAdjust="spacingAndGlyphs" stroke="#1818a8" stroke-width="0.2">M4</text>
<polygon points="475.50,223.70 488.50,223.70 482.00,237.50" fill="#0a0aee"/>
<text x="469.81" y="218.70" font-size="14.5" fill="#1818a8" textLength="23.70" lengthAdjust="spacingAndGlyphs" stroke="#1818a8" stroke-width="0.2">M5</text>
<polygon points="509.10,294.70 522.10,294.70 515.60,308.50" fill="#0a0aee"/>
<text x="503.80" y="289.70" font-size="14.5" fill="#1818a8" textLength="23.06" lengthAdjust="spacingAndGlyphs" stroke="#1818a8" stroke-width="0.2">M1</text>
<polygon points="616.30,292.50 629.30,292.50 622.80,306.30" fill="#0a0aee"/>
<text x="610.60" y="287.50" font-size="14.5" fill="#1818a8" textLength="23.85" lengthAdjust="spacingAndGlyphs" stroke="#1818a8" stroke-width="0.2">M2</text>
<polygon points="722.40,252.80 735.40,252.80 728.90,266.60" fill="#0a0aee"/>
<text x="716.71" y="247.80" font-size="14.5" fill="#1818a8" textLength="23.72" lengthAdjust="spacingAndGlyphs" stroke="#1818a8" stroke-width="0.2">M3</text>
<polygon points="839.20,243.60 852.20,243.60 845.70,257.40" fill="#0a0aee"/>
<text x="833.53" y="238.60" font-size="14.5" fill="#1818a8" textLength="23.47" lengthAdjust="spacingAndGlyphs" stroke="#1818a8" stroke-width="0.2">M4</text>
<polygon points="988.50,223.30 1001.50,223.30 995.00,237.10" fill="#0a0aee"/>
<text x="982.81" y="218.30" font-size="14.5" fill="#1818a8" textLength="23.70" lengthAdjust="spacingAndGlyphs" stroke="#1818a8" stroke-width="0.2">M5</text>
<polygon points="-4.00,536.80 9.00,536.80 2.50,550.60" fill="#0a0aee"/>
<text x="-9.30" y="531.80" font-size="14.5" fill="#1818a8" textLength="23.06" lengthAdjust="spacingAndGlyphs" stroke="#1818a8" stroke-width="0.2">M1</text>
<polygon points="211.20,540.00 224.20,540.00 217.70,553.80" fill="#0a0aee"/>
<text x="205.50" y="535.00" font-size="14.5" fill="#1818a8" textLength="23.85" lengthAdjust="spacingAndGlyphs" stroke="#1818a8" stroke-width="0.2">M2</text>
<polygon points="425.25,537.10 438.25,537.10 431.75,550.90" fill="#0a0aee"/>
<text x="419.56" y="532.10" font-size="14.5" fill="#1818a8" textLength="23.72" lengthAdjust="spacingAndGlyphs" stroke="#1818a8" stroke-width="0.2">M3</text>
<polygon points="661.20,539.10 674.20,539.10 667.70,552.90" fill="#0a0aee"/>
<text x="655.53" y="534.10" font-size="14.5" fill="#1818a8" textLength="23.47" lengthAdjust="spacingAndGlyphs" stroke="#1818a8" stroke-width="0.2">M4</text>
<polygon points="961.40,526.50 974.40,526.50 967.90,540.30" fill="#0a0aee"/>
<text x="955.71" y="521.50" font-size="14.5" fill="#1818a8" textLength="23.70" lengthAdjust="spacingAndGlyphs" stroke="#1818a8" stroke-width="0.2">M5</text>
<text x="276.63" y="49.50" font-size="14.5" fill="#1e1e9c" textLength="23.39" lengthAdjust="spacingAndGlyphs" stroke="#1e1e9c" stroke-width="0.35">M1</text>
<text x="310.98" y="49.50" font-size="14.5" fill="#1e1e9c" textLength="84.65" lengthAdjust="spacingAndGlyphs" stroke="#1e1e9c" stroke-width="0.35">100.000000</text>
<text x="404.65" y="49.50" font-size="14.5" fill="#1e1e9c" textLength="27.33" lengthAdjust="spacingAndGlyphs" stroke="#1e1e9c" stroke-width="0.35">kHz</text>
<text x="444.47" y="49.50" font-size="14.5" fill="#1e1e9c" textLength="39.41" lengthAdjust="spacingAndGlyphs" stroke="#1e1e9c" stroke-width="0.35">1.028</text>
<text x="492.03" y="49.50" font-size="14.5" fill="#1e1e9c" textLength="11.16" lengthAdjust="spacingAndGlyphs" stroke="#1e1e9c" stroke-width="0.35">U</text>
<text x="276.56" y="69.50" font-size="14.5" fill="#1e1e9c" textLength="24.63" lengthAdjust="spacingAndGlyphs" stroke="#1e1e9c" stroke-width="0.35">M2</text>
<text x="328.79" y="69.50" font-size="14.5" fill="#1e1e9c" textLength="66.83" lengthAdjust="spacingAndGlyphs" stroke="#1e1e9c" stroke-width="0.35">4.000000</text>
<text x="404.27" y="69.50" font-size="14.5" fill="#1e1e9c" textLength="29.34" lengthAdjust="spacingAndGlyphs" stroke="#1e1e9c" stroke-width="0.35">GHz</text>
<text x="444.54" y="69.50" font-size="14.5" fill="#1e1e9c" textLength="39.41" lengthAdjust="spacingAndGlyphs" stroke="#1e1e9c" stroke-width="0.35">1.039</text>
<text x="492.03" y="69.50" font-size="14.5" fill="#1e1e9c" textLength="11.16" lengthAdjust="spacingAndGlyphs" stroke="#1e1e9c" stroke-width="0.35">U</text>
<text x="276.57" y="89.50" font-size="14.5" fill="#1e1e9c" textLength="24.49" lengthAdjust="spacingAndGlyphs" stroke="#1e1e9c" stroke-width="0.35">M3</text>
<text x="328.79" y="89.50" font-size="14.5" fill="#1e1e9c" textLength="66.83" lengthAdjust="spacingAndGlyphs" stroke="#1e1e9c" stroke-width="0.35">8.000000</text>
<text x="404.27" y="89.50" font-size="14.5" fill="#1e1e9c" textLength="29.34" lengthAdjust="spacingAndGlyphs" stroke="#1e1e9c" stroke-width="0.35">GHz</text>
<text x="444.41" y="89.50" font-size="14.5" fill="#1e1e9c" textLength="39.41" lengthAdjust="spacingAndGlyphs" stroke="#1e1e9c" stroke-width="0.35">1.080</text>
<text x="492.03" y="89.50" font-size="14.5" fill="#1e1e9c" textLength="11.16" lengthAdjust="spacingAndGlyphs" stroke="#1e1e9c" stroke-width="0.35">U</text>
<text x="276.58" y="109.50" font-size="14.5" fill="#1e1e9c" textLength="24.23" lengthAdjust="spacingAndGlyphs" stroke="#1e1e9c" stroke-width="0.35">M4</text>
<text x="319.88" y="109.50" font-size="14.5" fill="#1e1e9c" textLength="75.74" lengthAdjust="spacingAndGlyphs" stroke="#1e1e9c" stroke-width="0.35">12.400000</text>
<text x="404.27" y="109.50" font-size="14.5" fill="#1e1e9c" textLength="29.34" lengthAdjust="spacingAndGlyphs" stroke="#1e1e9c" stroke-width="0.35">GHz</text>
<text x="444.54" y="109.50" font-size="14.5" fill="#1e1e9c" textLength="39.41" lengthAdjust="spacingAndGlyphs" stroke="#1e1e9c" stroke-width="0.35">1.049</text>
<text x="492.03" y="109.50" font-size="14.5" fill="#1e1e9c" textLength="11.16" lengthAdjust="spacingAndGlyphs" stroke="#1e1e9c" stroke-width="0.35">U</text>
<text x="276.57" y="129.50" font-size="14.5" fill="#1e1e9c" textLength="24.47" lengthAdjust="spacingAndGlyphs" stroke="#1e1e9c" stroke-width="0.35">M5</text>
<text x="319.88" y="129.50" font-size="14.5" fill="#1e1e9c" textLength="75.74" lengthAdjust="spacingAndGlyphs" stroke="#1e1e9c" stroke-width="0.35">18.000000</text>
<text x="404.27" y="129.50" font-size="14.5" fill="#1e1e9c" textLength="29.34" lengthAdjust="spacingAndGlyphs" stroke="#1e1e9c" stroke-width="0.35">GHz</text>
<text x="444.47" y="129.50" font-size="14.5" fill="#1e1e9c" textLength="39.41" lengthAdjust="spacingAndGlyphs" stroke="#1e1e9c" stroke-width="0.35">1.266</text>
<text x="492.03" y="129.50" font-size="14.5" fill="#1e1e9c" textLength="11.16" lengthAdjust="spacingAndGlyphs" stroke="#1e1e9c" stroke-width="0.35">U</text>
<text x="789.63" y="49.50" font-size="14.5" fill="#1e1e9c" textLength="23.39" lengthAdjust="spacingAndGlyphs" stroke="#1e1e9c" stroke-width="0.35">M1</text>
<text x="823.98" y="49.50" font-size="14.5" fill="#1e1e9c" textLength="84.65" lengthAdjust="spacingAndGlyphs" stroke="#1e1e9c" stroke-width="0.35">100.000000</text>
<text x="917.65" y="49.50" font-size="14.5" fill="#1e1e9c" textLength="27.33" lengthAdjust="spacingAndGlyphs" stroke="#1e1e9c" stroke-width="0.35">kHz</text>
<text x="957.47" y="49.50" font-size="14.5" fill="#1e1e9c" textLength="39.41" lengthAdjust="spacingAndGlyphs" stroke="#1e1e9c" stroke-width="0.35">1.026</text>
<text x="1005.03" y="49.50" font-size="14.5" fill="#1e1e9c" textLength="11.16" lengthAdjust="spacingAndGlyphs" stroke="#1e1e9c" stroke-width="0.35">U</text>
<text x="789.56" y="69.50" font-size="14.5" fill="#1e1e9c" textLength="24.63" lengthAdjust="spacingAndGlyphs" stroke="#1e1e9c" stroke-width="0.35">M2</text>
<text x="841.79" y="69.50" font-size="14.5" fill="#1e1e9c" textLength="66.83" lengthAdjust="spacingAndGlyphs" stroke="#1e1e9c" stroke-width="0.35">4.000000</text>
<text x="917.27" y="69.50" font-size="14.5" fill="#1e1e9c" textLength="29.34" lengthAdjust="spacingAndGlyphs" stroke="#1e1e9c" stroke-width="0.35">GHz</text>
<text x="957.45" y="69.50" font-size="14.5" fill="#1e1e9c" textLength="39.41" lengthAdjust="spacingAndGlyphs" stroke="#1e1e9c" stroke-width="0.35">1.035</text>
<text x="1005.03" y="69.50" font-size="14.5" fill="#1e1e9c" textLength="11.16" lengthAdjust="spacingAndGlyphs" stroke="#1e1e9c" stroke-width="0.35">U</text>
<text x="789.57" y="89.50" font-size="14.5" fill="#1e1e9c" textLength="24.49" lengthAdjust="spacingAndGlyphs" stroke="#1e1e9c" stroke-width="0.35">M3</text>
<text x="841.79" y="89.50" font-size="14.5" fill="#1e1e9c" textLength="66.83" lengthAdjust="spacingAndGlyphs" stroke="#1e1e9c" stroke-width="0.35">8.000000</text>
<text x="917.27" y="89.50" font-size="14.5" fill="#1e1e9c" textLength="29.34" lengthAdjust="spacingAndGlyphs" stroke="#1e1e9c" stroke-width="0.35">GHz</text>
<text x="957.47" y="89.50" font-size="14.5" fill="#1e1e9c" textLength="39.41" lengthAdjust="spacingAndGlyphs" stroke="#1e1e9c" stroke-width="0.35">1.168</text>
<text x="1005.03" y="89.50" font-size="14.5" fill="#1e1e9c" textLength="11.16" lengthAdjust="spacingAndGlyphs" stroke="#1e1e9c" stroke-width="0.35">U</text>
<text x="789.58" y="109.50" font-size="14.5" fill="#1e1e9c" textLength="24.23" lengthAdjust="spacingAndGlyphs" stroke="#1e1e9c" stroke-width="0.35">M4</text>
<text x="832.88" y="109.50" font-size="14.5" fill="#1e1e9c" textLength="75.74" lengthAdjust="spacingAndGlyphs" stroke="#1e1e9c" stroke-width="0.35">12.400000</text>
<text x="917.27" y="109.50" font-size="14.5" fill="#1e1e9c" textLength="29.34" lengthAdjust="spacingAndGlyphs" stroke="#1e1e9c" stroke-width="0.35">GHz</text>
<text x="957.41" y="109.50" font-size="14.5" fill="#1e1e9c" textLength="39.41" lengthAdjust="spacingAndGlyphs" stroke="#1e1e9c" stroke-width="0.35">1.200</text>
<text x="1005.03" y="109.50" font-size="14.5" fill="#1e1e9c" textLength="11.16" lengthAdjust="spacingAndGlyphs" stroke="#1e1e9c" stroke-width="0.35">U</text>
<text x="789.57" y="129.50" font-size="14.5" fill="#1e1e9c" textLength="24.47" lengthAdjust="spacingAndGlyphs" stroke="#1e1e9c" stroke-width="0.35">M5</text>
<text x="832.88" y="129.50" font-size="14.5" fill="#1e1e9c" textLength="75.74" lengthAdjust="spacingAndGlyphs" stroke="#1e1e9c" stroke-width="0.35">18.000000</text>
<text x="917.27" y="129.50" font-size="14.5" fill="#1e1e9c" textLength="29.34" lengthAdjust="spacingAndGlyphs" stroke="#1e1e9c" stroke-width="0.35">GHz</text>
<text x="957.47" y="129.50" font-size="14.5" fill="#1e1e9c" textLength="39.41" lengthAdjust="spacingAndGlyphs" stroke="#1e1e9c" stroke-width="0.35">1.266</text>
<text x="1005.03" y="129.50" font-size="14.5" fill="#1e1e9c" textLength="11.16" lengthAdjust="spacingAndGlyphs" stroke="#1e1e9c" stroke-width="0.35">U</text>
<text x="758.63" y="416.00" font-size="14.5" fill="#1e1e9c" textLength="23.39" lengthAdjust="spacingAndGlyphs" stroke="#1e1e9c" stroke-width="0.35">M1</text>
<text x="792.68" y="416.00" font-size="14.5" fill="#1e1e9c" textLength="84.65" lengthAdjust="spacingAndGlyphs" stroke="#1e1e9c" stroke-width="0.35">100.000000</text>
<text x="885.92" y="416.00" font-size="14.5" fill="#1e1e9c" textLength="28.19" lengthAdjust="spacingAndGlyphs" stroke="#1e1e9c" stroke-width="0.35">kHz</text>
<text x="926.09" y="416.00" font-size="14.5" fill="#1e1e9c" textLength="62.16" lengthAdjust="spacingAndGlyphs" stroke="#1e1e9c" stroke-width="0.35">-30.0905</text>
<text x="997.24" y="416.00" font-size="14.5" fill="#1e1e9c" textLength="19.49" lengthAdjust="spacingAndGlyphs" stroke="#1e1e9c" stroke-width="0.35">dB</text>
<text x="758.56" y="436.00" font-size="14.5" fill="#1e1e9c" textLength="24.63" lengthAdjust="spacingAndGlyphs" stroke="#1e1e9c" stroke-width="0.35">M2</text>
<text x="810.49" y="436.00" font-size="14.5" fill="#1e1e9c" textLength="66.83" lengthAdjust="spacingAndGlyphs" stroke="#1e1e9c" stroke-width="0.35">4.000000</text>
<text x="885.35" y="436.00" font-size="14.5" fill="#1e1e9c" textLength="30.07" lengthAdjust="spacingAndGlyphs" stroke="#1e1e9c" stroke-width="0.35">GHz</text>
<text x="926.20" y="436.00" font-size="14.5" fill="#1e1e9c" textLength="62.16" lengthAdjust="spacingAndGlyphs" stroke="#1e1e9c" stroke-width="0.35">-30.1841</text>
<text x="997.24" y="436.00" font-size="14.5" fill="#1e1e9c" textLength="19.49" lengthAdjust="spacingAndGlyphs" stroke="#1e1e9c" stroke-width="0.35">dB</text>
<text x="758.57" y="456.00" font-size="14.5" fill="#1e1e9c" textLength="24.49" lengthAdjust="spacingAndGlyphs" stroke="#1e1e9c" stroke-width="0.35">M3</text>
<text x="810.49" y="456.00" font-size="14.5" fill="#1e1e9c" textLength="66.83" lengthAdjust="spacingAndGlyphs" stroke="#1e1e9c" stroke-width="0.35">8.000000</text>
<text x="885.35" y="456.00" font-size="14.5" fill="#1e1e9c" textLength="30.07" lengthAdjust="spacingAndGlyphs" stroke="#1e1e9c" stroke-width="0.35">GHz</text>
<text x="926.20" y="456.00" font-size="14.5" fill="#1e1e9c" textLength="62.16" lengthAdjust="spacingAndGlyphs" stroke="#1e1e9c" stroke-width="0.35">-30.0671</text>
<text x="997.24" y="456.00" font-size="14.5" fill="#1e1e9c" textLength="19.49" lengthAdjust="spacingAndGlyphs" stroke="#1e1e9c" stroke-width="0.35">dB</text>
<text x="758.58" y="476.00" font-size="14.5" fill="#1e1e9c" textLength="24.23" lengthAdjust="spacingAndGlyphs" stroke="#1e1e9c" stroke-width="0.35">M4</text>
<text x="801.58" y="476.00" font-size="14.5" fill="#1e1e9c" textLength="75.74" lengthAdjust="spacingAndGlyphs" stroke="#1e1e9c" stroke-width="0.35">12.400000</text>
<text x="885.35" y="476.00" font-size="14.5" fill="#1e1e9c" textLength="30.07" lengthAdjust="spacingAndGlyphs" stroke="#1e1e9c" stroke-width="0.35">GHz</text>
<text x="925.89" y="476.00" font-size="14.5" fill="#1e1e9c" textLength="62.16" lengthAdjust="spacingAndGlyphs" stroke="#1e1e9c" stroke-width="0.35">-30.1544</text>
<text x="997.24" y="476.00" font-size="14.5" fill="#1e1e9c" textLength="19.49" lengthAdjust="spacingAndGlyphs" stroke="#1e1e9c" stroke-width="0.35">dB</text>
<text x="758.57" y="496.00" font-size="14.5" fill="#1e1e9c" textLength="24.47" lengthAdjust="spacingAndGlyphs" stroke="#1e1e9c" stroke-width="0.35">M5</text>
<text x="801.58" y="496.00" font-size="14.5" fill="#1e1e9c" textLength="75.74" lengthAdjust="spacingAndGlyphs" stroke="#1e1e9c" stroke-width="0.35">18.000000</text>
<text x="885.35" y="496.00" font-size="14.5" fill="#1e1e9c" textLength="30.07" lengthAdjust="spacingAndGlyphs" stroke="#1e1e9c" stroke-width="0.35">GHz</text>
<text x="926.11" y="496.00" font-size="14.5" fill="#1e1e9c" textLength="62.16" lengthAdjust="spacingAndGlyphs" stroke="#1e1e9c" stroke-width="0.35">-29.6883</text>
<text x="997.24" y="496.00" font-size="14.5" fill="#1e1e9c" textLength="19.49" lengthAdjust="spacingAndGlyphs" stroke="#1e1e9c" stroke-width="0.35">dB</text>
<polygon points="750,410.5 752.5,408 755,410.5 752.5,413" fill="#1e1e9c"/>
<text x="12.19" y="18.50" font-size="14.5" fill="#1c1c1c" textLength="27.75" lengthAdjust="spacingAndGlyphs" stroke="#1c1c1c" stroke-width="0.35">Trc1</text>
<text x="122.74" y="18.50" font-size="14.5" fill="#1c1c1c" textLength="25.48" lengthAdjust="spacingAndGlyphs" stroke="#1c1c1c" stroke-width="0.35">S11</text>
<text x="162.85" y="18.50" font-size="14.5" fill="#1c1c1c" textLength="34.12" lengthAdjust="spacingAndGlyphs" stroke="#1c1c1c" stroke-width="0.35">SWR</text>
<text x="210.48" y="18.50" font-size="14.5" fill="#1c1c1c" textLength="26.86" lengthAdjust="spacingAndGlyphs" stroke="#1c1c1c" stroke-width="0.35">100</text>
<text x="241.81" y="18.50" font-size="14.5" fill="#1c1c1c" textLength="32.96" lengthAdjust="spacingAndGlyphs" stroke="#1c1c1c" stroke-width="0.35">mU/</text>
<text x="278.20" y="18.50" font-size="14.5" fill="#1c1c1c" textLength="23.02" lengthAdjust="spacingAndGlyphs" stroke="#1c1c1c" stroke-width="0.35">Ref</text>
<text x="306.34" y="18.50" font-size="14.5" fill="#1c1c1c" textLength="29.69" lengthAdjust="spacingAndGlyphs" stroke="#1c1c1c" stroke-width="0.35">1.45</text>
<text x="338.58" y="18.50" font-size="14.5" fill="#1c1c1c" textLength="13.56" lengthAdjust="spacingAndGlyphs" stroke="#1c1c1c" stroke-width="0.35">U</text>
<text x="366.23" y="18.50" font-size="14.5" fill="#1c1c1c" textLength="23.30" lengthAdjust="spacingAndGlyphs" stroke="#1c1c1c" stroke-width="0.35">Cal</text>
<text x="391.47" y="18.50" font-size="14.5" fill="#1c1c1c" textLength="19.65" lengthAdjust="spacingAndGlyphs" stroke="#1c1c1c" stroke-width="0.35">int</text>
<text x="415.82" y="18.50" font-size="14.5" fill="#1c1c1c" textLength="31.61" lengthAdjust="spacingAndGlyphs" stroke="#1c1c1c" stroke-width="0.35">Smo</text>
<text x="473.43" y="18.50" font-size="14.5" fill="#1c1c1c" textLength="7.09" lengthAdjust="spacingAndGlyphs" stroke="#1c1c1c" stroke-width="0.35">1</text>
<rect x="54.25" y="12" width="48.25" height="2" fill="#00007c"/>
<text x="524.17" y="18.50" font-size="14.5" fill="#1c1c1c" textLength="29.06" lengthAdjust="spacingAndGlyphs" stroke="#1c1c1c" stroke-width="0.35">Trc2</text>
<text x="634.75" y="18.50" font-size="14.5" fill="#1c1c1c" textLength="26.17" lengthAdjust="spacingAndGlyphs" stroke="#1c1c1c" stroke-width="0.35">S44</text>
<text x="674.85" y="18.50" font-size="14.5" fill="#1c1c1c" textLength="34.12" lengthAdjust="spacingAndGlyphs" stroke="#1c1c1c" stroke-width="0.35">SWR</text>
<text x="722.48" y="18.50" font-size="14.5" fill="#1c1c1c" textLength="26.86" lengthAdjust="spacingAndGlyphs" stroke="#1c1c1c" stroke-width="0.35">100</text>
<text x="753.81" y="18.50" font-size="14.5" fill="#1c1c1c" textLength="32.96" lengthAdjust="spacingAndGlyphs" stroke="#1c1c1c" stroke-width="0.35">mU/</text>
<text x="790.20" y="18.50" font-size="14.5" fill="#1c1c1c" textLength="23.02" lengthAdjust="spacingAndGlyphs" stroke="#1c1c1c" stroke-width="0.35">Ref</text>
<text x="818.34" y="18.50" font-size="14.5" fill="#1c1c1c" textLength="29.69" lengthAdjust="spacingAndGlyphs" stroke="#1c1c1c" stroke-width="0.35">1.45</text>
<text x="850.58" y="18.50" font-size="14.5" fill="#1c1c1c" textLength="13.56" lengthAdjust="spacingAndGlyphs" stroke="#1c1c1c" stroke-width="0.35">U</text>
<text x="878.23" y="18.50" font-size="14.5" fill="#1c1c1c" textLength="23.30" lengthAdjust="spacingAndGlyphs" stroke="#1c1c1c" stroke-width="0.35">Cal</text>
<text x="903.47" y="18.50" font-size="14.5" fill="#1c1c1c" textLength="19.65" lengthAdjust="spacingAndGlyphs" stroke="#1c1c1c" stroke-width="0.35">int</text>
<text x="927.82" y="18.50" font-size="14.5" fill="#1c1c1c" textLength="31.61" lengthAdjust="spacingAndGlyphs" stroke="#1c1c1c" stroke-width="0.35">Smo</text>
<text x="985.80" y="18.50" font-size="14.5" fill="#1c1c1c" textLength="9.01" lengthAdjust="spacingAndGlyphs" stroke="#1c1c1c" stroke-width="0.35">2</text>
<rect x="566.25" y="12" width="48.25" height="2" fill="#00007c"/>
<text x="12.19" y="385.20" font-size="14.5" fill="#1c1c1c" textLength="27.92" lengthAdjust="spacingAndGlyphs" stroke="#1c1c1c" stroke-width="0.35">Trc3</text>
<text x="123.13" y="385.20" font-size="14.5" fill="#1c1c1c" textLength="25.05" lengthAdjust="spacingAndGlyphs" stroke="#1c1c1c" stroke-width="0.35">S41</text>
<text x="163.02" y="385.20" font-size="14.5" fill="#1c1c1c" textLength="21.65" lengthAdjust="spacingAndGlyphs" stroke="#1c1c1c" stroke-width="0.35">dB</text>
<text x="187.39" y="385.20" font-size="14.5" fill="#1c1c1c" textLength="32.42" lengthAdjust="spacingAndGlyphs" stroke="#1c1c1c" stroke-width="0.35">Mag</text>
<text x="233.80" y="385.20" font-size="14.5" fill="#1c1c1c" textLength="21.96" lengthAdjust="spacingAndGlyphs" stroke="#1c1c1c" stroke-width="0.35">1.1</text>
<text x="259.79" y="385.20" font-size="14.5" fill="#1c1c1c" textLength="25.69" lengthAdjust="spacingAndGlyphs" stroke="#1c1c1c" stroke-width="0.35">dB/</text>
<text x="290.05" y="385.20" font-size="14.5" fill="#1c1c1c" textLength="22.91" lengthAdjust="spacingAndGlyphs" stroke="#1c1c1c" stroke-width="0.35">Ref</text>
<text x="318.06" y="385.20" font-size="14.5" fill="#1c1c1c" textLength="22.54" lengthAdjust="spacingAndGlyphs" stroke="#1c1c1c" stroke-width="0.35">-30</text>
<text x="345.61" y="385.20" font-size="14.5" fill="#1c1c1c" textLength="18.95" lengthAdjust="spacingAndGlyphs" stroke="#1c1c1c" stroke-width="0.35">dB</text>
<text x="377.97" y="385.20" font-size="14.5" fill="#1c1c1c" textLength="23.57" lengthAdjust="spacingAndGlyphs" stroke="#1c1c1c" stroke-width="0.35">Cal</text>
<text x="403.29" y="385.20" font-size="14.5" fill="#1c1c1c" textLength="19.33" lengthAdjust="spacingAndGlyphs" stroke="#1c1c1c" stroke-width="0.35">int</text>
<text x="427.56" y="385.20" font-size="14.5" fill="#1c1c1c" textLength="32.34" lengthAdjust="spacingAndGlyphs" stroke="#1c1c1c" stroke-width="0.35">Smo</text>
<text x="985.68" y="385.20" font-size="14.5" fill="#1c1c1c" textLength="8.47" lengthAdjust="spacingAndGlyphs" stroke="#1c1c1c" stroke-width="0.35">3</text>
<rect x="54.25" y="379" width="48.25" height="2" fill="#00007c"/>
<polyline points="487.3,10.3 493.9,16.7 500.5,10.3" fill="none" stroke="#1c1c1c" stroke-width="1.9" stroke-linecap="butt" stroke-linejoin="miter"/>
<polyline points="1000.6,10.3 1007.0,16.7 1013.4,10.3" fill="none" stroke="#1c1c1c" stroke-width="1.9" stroke-linecap="butt" stroke-linejoin="miter"/>
<polyline points="1000.6,377.2 1007.0,383.6 1013.4,377.2" fill="none" stroke="#1c1c1c" stroke-width="1.9" stroke-linecap="butt" stroke-linejoin="miter"/>
<text x="4.75" y="350.75" font-size="14.5" fill="#1c1c1c" textLength="27.73" lengthAdjust="spacingAndGlyphs" stroke="#1c1c1c" stroke-width="0.35">Ch1</text>
<text x="516.75" y="350.75" font-size="14.5" fill="#1c1c1c" textLength="27.73" lengthAdjust="spacingAndGlyphs" stroke="#1c1c1c" stroke-width="0.35">Ch1</text>
<text x="43.78" y="350.75" font-size="14.5" fill="#1c1c1c" textLength="34.56" lengthAdjust="spacingAndGlyphs" stroke="#1c1c1c" stroke-width="0.35">Start</text>
<text x="555.78" y="350.75" font-size="14.5" fill="#1c1c1c" textLength="34.56" lengthAdjust="spacingAndGlyphs" stroke="#1c1c1c" stroke-width="0.35">Start</text>
<text x="95.03" y="350.75" font-size="14.5" fill="#1c1c1c" textLength="26.86" lengthAdjust="spacingAndGlyphs" stroke="#1c1c1c" stroke-width="0.35">100</text>
<text x="607.03" y="350.75" font-size="14.5" fill="#1c1c1c" textLength="26.86" lengthAdjust="spacingAndGlyphs" stroke="#1c1c1c" stroke-width="0.35">100</text>
<text x="125.95" y="350.75" font-size="14.5" fill="#1c1c1c" textLength="27.33" lengthAdjust="spacingAndGlyphs" stroke="#1c1c1c" stroke-width="0.35">kHz</text>
<text x="637.95" y="350.75" font-size="14.5" fill="#1c1c1c" textLength="27.33" lengthAdjust="spacingAndGlyphs" stroke="#1c1c1c" stroke-width="0.35">kHz</text>
<text x="169.94" y="350.75" font-size="14.5" fill="#1c1c1c" textLength="27.82" lengthAdjust="spacingAndGlyphs" stroke="#1c1c1c" stroke-width="0.35">Pwr</text>
<text x="681.94" y="350.75" font-size="14.5" fill="#1c1c1c" textLength="27.82" lengthAdjust="spacingAndGlyphs" stroke="#1c1c1c" stroke-width="0.35">Pwr</text>
<text x="213.84" y="350.75" font-size="14.5" fill="#1c1c1c" textLength="24.92" lengthAdjust="spacingAndGlyphs" stroke="#1c1c1c" stroke-width="0.35">-10</text>
<text x="725.84" y="350.75" font-size="14.5" fill="#1c1c1c" textLength="24.92" lengthAdjust="spacingAndGlyphs" stroke="#1c1c1c" stroke-width="0.35">-10</text>
<text x="241.32" y="350.75" font-size="14.5" fill="#1c1c1c" textLength="33.74" lengthAdjust="spacingAndGlyphs" stroke="#1c1c1c" stroke-width="0.35">dBm</text>
<text x="753.32" y="350.75" font-size="14.5" fill="#1c1c1c" textLength="33.74" lengthAdjust="spacingAndGlyphs" stroke="#1c1c1c" stroke-width="0.35">dBm</text>
<text x="289.48" y="350.75" font-size="14.5" fill="#1c1c1c" textLength="22.56" lengthAdjust="spacingAndGlyphs" stroke="#1c1c1c" stroke-width="0.35">Bw</text>
<text x="801.48" y="350.75" font-size="14.5" fill="#1c1c1c" textLength="22.56" lengthAdjust="spacingAndGlyphs" stroke="#1c1c1c" stroke-width="0.35">Bw</text>
<text x="328.28" y="350.75" font-size="14.5" fill="#1c1c1c" textLength="17.96" lengthAdjust="spacingAndGlyphs" stroke="#1c1c1c" stroke-width="0.35">10</text>
<text x="840.28" y="350.75" font-size="14.5" fill="#1c1c1c" textLength="17.96" lengthAdjust="spacingAndGlyphs" stroke="#1c1c1c" stroke-width="0.35">10</text>
<text x="350.33" y="350.75" font-size="14.5" fill="#1c1c1c" textLength="27.76" lengthAdjust="spacingAndGlyphs" stroke="#1c1c1c" stroke-width="0.35">kHz</text>
<text x="862.33" y="350.75" font-size="14.5" fill="#1c1c1c" textLength="27.76" lengthAdjust="spacingAndGlyphs" stroke="#1c1c1c" stroke-width="0.35">kHz</text>
<text x="398.87" y="350.75" font-size="14.5" fill="#1c1c1c" textLength="34.02" lengthAdjust="spacingAndGlyphs" stroke="#1c1c1c" stroke-width="0.35">Stop</text>
<text x="910.87" y="350.75" font-size="14.5" fill="#1c1c1c" textLength="34.02" lengthAdjust="spacingAndGlyphs" stroke="#1c1c1c" stroke-width="0.35">Stop</text>
<text x="449.33" y="350.75" font-size="14.5" fill="#1c1c1c" textLength="17.10" lengthAdjust="spacingAndGlyphs" stroke="#1c1c1c" stroke-width="0.35">19</text>
<text x="961.33" y="350.75" font-size="14.5" fill="#1c1c1c" textLength="17.10" lengthAdjust="spacingAndGlyphs" stroke="#1c1c1c" stroke-width="0.35">19</text>
<text x="470.45" y="350.75" font-size="14.5" fill="#1c1c1c" textLength="30.39" lengthAdjust="spacingAndGlyphs" stroke="#1c1c1c" stroke-width="0.35">GHz</text>
<text x="982.45" y="350.75" font-size="14.5" fill="#1c1c1c" textLength="30.39" lengthAdjust="spacingAndGlyphs" stroke="#1c1c1c" stroke-width="0.35">GHz</text>
<text x="4.75" y="717.50" font-size="14.5" fill="#1c1c1c" textLength="27.73" lengthAdjust="spacingAndGlyphs" stroke="#1c1c1c" stroke-width="0.35">Ch1</text>
<text x="43.78" y="717.50" font-size="14.5" fill="#1c1c1c" textLength="34.56" lengthAdjust="spacingAndGlyphs" stroke="#1c1c1c" stroke-width="0.35">Start</text>
<text x="95.03" y="717.50" font-size="14.5" fill="#1c1c1c" textLength="26.86" lengthAdjust="spacingAndGlyphs" stroke="#1c1c1c" stroke-width="0.35">100</text>
<text x="125.95" y="717.50" font-size="14.5" fill="#1c1c1c" textLength="27.33" lengthAdjust="spacingAndGlyphs" stroke="#1c1c1c" stroke-width="0.35">kHz</text>
<text x="286.23" y="717.50" font-size="14.5" fill="#1c1c1c" textLength="28.94" lengthAdjust="spacingAndGlyphs" stroke="#1c1c1c" stroke-width="0.35">Pwr</text>
<text x="330.98" y="717.50" font-size="14.5" fill="#1c1c1c" textLength="23.65" lengthAdjust="spacingAndGlyphs" stroke="#1c1c1c" stroke-width="0.35">-10</text>
<text x="358.32" y="717.50" font-size="14.5" fill="#1c1c1c" textLength="33.74" lengthAdjust="spacingAndGlyphs" stroke="#1c1c1c" stroke-width="0.35">dBm</text>
<text x="406.17" y="717.50" font-size="14.5" fill="#1c1c1c" textLength="22.77" lengthAdjust="spacingAndGlyphs" stroke="#1c1c1c" stroke-width="0.35">Bw</text>
<text x="444.55" y="717.50" font-size="14.5" fill="#1c1c1c" textLength="18.29" lengthAdjust="spacingAndGlyphs" stroke="#1c1c1c" stroke-width="0.35">10</text>
<text x="466.94" y="717.50" font-size="14.5" fill="#1c1c1c" textLength="27.65" lengthAdjust="spacingAndGlyphs" stroke="#1c1c1c" stroke-width="0.35">kHz</text>
<text x="511.87" y="717.50" font-size="14.5" fill="#1c1c1c" textLength="43.37" lengthAdjust="spacingAndGlyphs" stroke="#1c1c1c" stroke-width="0.35">TOSM</text>
<text x="557.75" y="717.50" font-size="14.5" fill="#1c1c1c" textLength="42.00" lengthAdjust="spacingAndGlyphs" stroke="#1c1c1c" stroke-width="0.35">P1,P4</text>
<text x="910.87" y="717.50" font-size="14.5" fill="#1c1c1c" textLength="34.02" lengthAdjust="spacingAndGlyphs" stroke="#1c1c1c" stroke-width="0.35">Stop</text>
<text x="961.33" y="717.50" font-size="14.5" fill="#1c1c1c" textLength="17.10" lengthAdjust="spacingAndGlyphs" stroke="#1c1c1c" stroke-width="0.35">19</text>
<text x="982.45" y="717.50" font-size="14.5" fill="#1c1c1c" textLength="30.39" lengthAdjust="spacingAndGlyphs" stroke="#1c1c1c" stroke-width="0.35">GHz</text>
</svg>
</body></html>
